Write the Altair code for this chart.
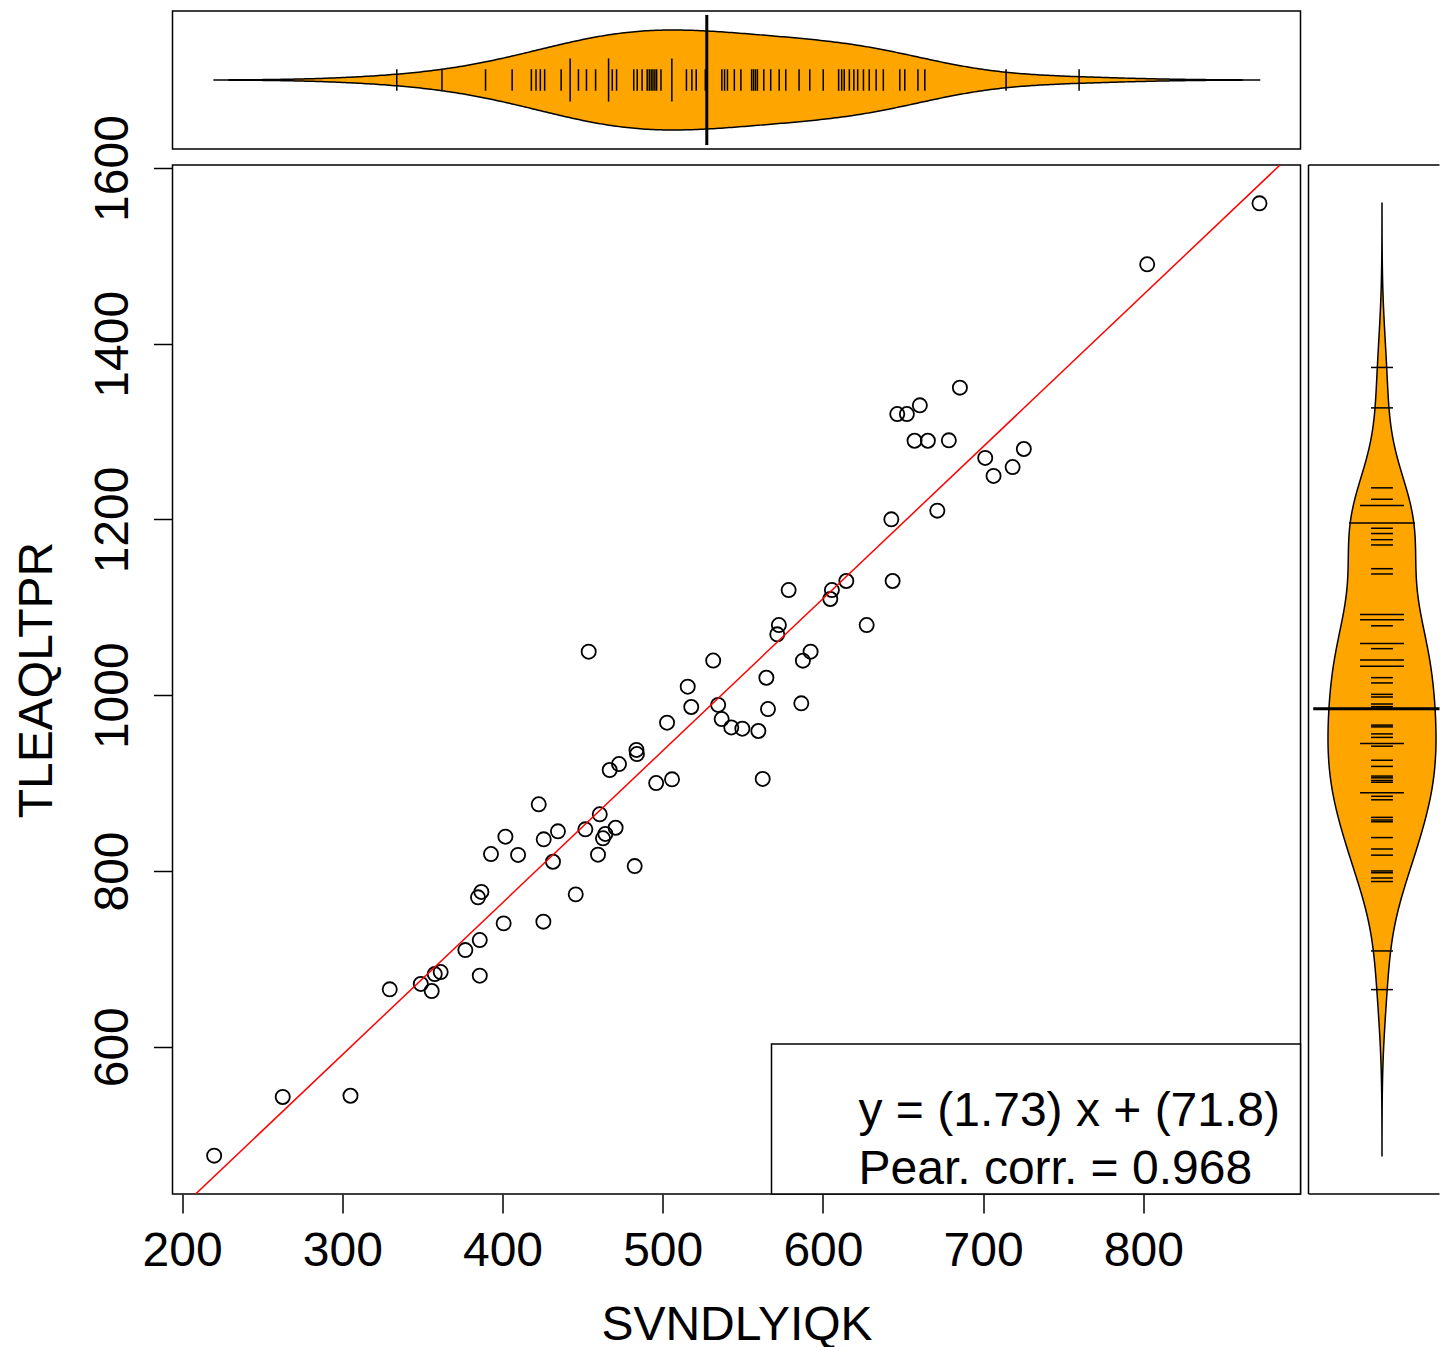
import altair as alt
import pandas as pd

# ---------------- data ----------------
X_VALUES = [220.0, 262.8, 305.1, 329.6, 349.0, 355.8, 357.7, 361.4, 376.8, 385.8,
            385.8, 384.7, 386.8, 392.8, 400.7, 401.8, 409.7, 422.6, 425.7, 425.5,
            431.5, 434.6, 445.7, 451.7, 453.8, 459.6, 460.7, 462.7, 464.2, 470.6,
            466.9, 472.7, 482.5, 483.6, 483.9, 495.9, 505.8, 502.7, 515.6, 517.8,
            531.5, 534.6, 536.8, 542.8, 549.7, 559.7, 562.4, 564.7, 565.7, 571.5,
            572.5, 578.6, 586.5, 587.5, 592.3, 604.6, 605.6, 614.6, 627.3, 642.7,
            643.5, 646.4, 652.4, 660.5, 657.2, 665.5, 671.4, 678.6, 685.5, 701.3,
            706.5, 718.4, 725.4, 802.4, 872.5]
Y_VALUES = [476.0, 542.8, 544.2, 665.3, 671.4, 663.4, 682.7, 685.0, 710.0, 721.4,
            680.8, 770.0, 776.1, 819.3, 740.4, 839.0, 818.2, 875.9, 836.0, 742.3,
            810.5, 845.1, 773.4, 847.4, 1049.5, 818.5, 864.5, 837.2, 842.1, 849.2,
            914.9, 921.7, 805.6, 937.7, 933.1, 900.1, 904.3, 968.7, 1009.7, 986.6,
            1039.5, 988.9, 972.9, 963.3, 961.9, 959.3, 904.7, 1019.9, 984.3, 1069.3,
            1079.9, 1119.7, 990.8, 1039.3, 1049.5, 1109.5, 1119.7, 1130.0, 1079.9, 1200.2,
            1130.0, 1320.0, 1320.0, 1329.9, 1289.6, 1289.6, 1210.0, 1290.1, 1350.0, 1270.0,
            1249.5, 1259.7, 1280.2, 1490.4, 1559.8]

# bean lines of the two marginal beans (repeated values = longer lines)
TOP_RUG = [334.0, 362.2, 389.4, 406.0, 418.0, 420.9, 423.6, 426.3, 436.6, 442.2,
           442.2, 447.4, 452.4, 458.1, 466.2, 466.2, 468.5, 471.2, 481.9, 484.1,
           487.1, 490.3, 491.6, 492.8, 493.9, 495.1, 496.2, 498.9, 505.7, 505.7,
           514.8, 518.2, 520.9, 526.6, 536.9, 538.6, 540.4, 544.7, 548.8, 555.5,
           556.7, 557.9, 559.1, 563.1, 567.4, 572.7, 576.8, 585.1, 591.8, 600.2,
           609.8, 611.7, 613.3, 616.5, 619.3, 621.7, 625.3, 628.9, 633.2, 637.7,
           648.0, 651.1, 659.3, 663.6, 714.3, 759.9]
RIGHT_RUG = [1373, 1327, 1236, 1223, 1216, 1216, 1196, 1196, 1196, 1190,
             1184, 1177, 1171, 1144, 1138, 1092, 1092, 1086, 1086, 1079,
             1059, 1059, 1053, 1040, 1040, 1033, 1033, 1020, 1014, 1001,
             998, 990, 987, 985, 966, 964, 956, 952, 945, 945,
             942, 926, 919, 908, 906, 903, 901, 889, 889, 885,
             881, 861, 858, 856, 838, 825, 818, 800, 798, 792,
             788, 709, 665]
X_MEAN = [527.5]
Y_MEAN = [984.5]

SLOPE = 1.73
INTERCEPT = 71.8
PEARSON = 0.968
X_LABEL = "SVNDLYIQK"
Y_LABEL = "TLEAQLTPR"
X_TICKS = [200, 300, 400, 500, 600, 700, 800]
Y_TICKS = [600, 800, 1000, 1200, 1400, 1600]
X_DOMAIN = [194.0, 898.1]
Y_DOMAIN = [432.4, 1603.4]

# ---------------- styling ----------------
FONT = "Liberation Sans"
FS = 48
W, H = 1128, 1029
TOP_H = 138
RIGHT_W = 131
BEAN_FILL = "#FFA500"
BW_X = 44
BW_Y = 56

xs = alt.Scale(domain=X_DOMAIN, nice=False, zero=False)
ys = alt.Scale(domain=Y_DOMAIN, nice=False, zero=False)

x_axis = alt.Axis(values=X_TICKS, title=X_LABEL, format="d", labelFlush=False,
                  labelOverlap=False, labelPadding=14, titleX=W / 2, titleY=145,
                  titleBaseline="alphabetic", titleAlign="center")
y_axis = alt.Axis(values=Y_TICKS, title=Y_LABEL, format="d", labelAngle=270,
                  labelAlign="center", labelBaseline="alphabetic", labelPadding=26,
                  labelOverlap=False, labelFlush=False, titleAngle=270, titleAlign="center",
                  titleBaseline="alphabetic", titleX=-121.5, titleY=H / 2)

# ---------------- main scatter ----------------
scatter_df = pd.DataFrame({"x": X_VALUES, "y": Y_VALUES})
x_enc = alt.X("x:Q", scale=xs, axis=x_axis)
y_enc = alt.Y("y:Q", scale=ys, axis=y_axis)

points = alt.Chart(scatter_df).mark_point(
    shape="circle", filled=False, color="black", size=200, strokeWidth=1.8, opacity=1
).encode(x=x_enc, y=y_enc)

line_df = pd.DataFrame({"x": X_DOMAIN})
fit_line = alt.Chart(line_df).transform_calculate(
    y=f"{SLOPE} * datum.x + {INTERCEPT}"
).mark_line(color="red", strokeWidth=1.5, clip=True).encode(x=x_enc, y=y_enc)

one = pd.DataFrame({"k": [0]})
legend_box = alt.Chart(one).mark_rect(fill="white", stroke="black", strokeWidth=1.5).encode(
    x=alt.value(599), x2=alt.value(W), y=alt.value(879), y2=alt.value(H)
)
legend_t1 = alt.Chart(one).mark_text(
    text=f"y = ({SLOPE}) x + ({INTERCEPT})", align="left", baseline="alphabetic",
    font=FONT, fontSize=FS, color="black"
).encode(x=alt.value(686), y=alt.value(961))
legend_t2 = alt.Chart(one).mark_text(
    text=f"Pear. corr. = {PEARSON}", align="left", baseline="alphabetic",
    font=FONT, fontSize=FS, color="black"
).encode(x=alt.value(686), y=alt.value(1019))

main = alt.layer(points, fit_line, legend_box, legend_t1, legend_t2).properties(width=W, height=H)

# ---------------- top bean (x margin) ----------------
TOP_HALF = 1.38
TOP_LINE = 0.216
TOP_MEANLEN = 1.3
tys = alt.Scale(domain=[-TOP_HALF, TOP_HALF], nice=False, zero=False)
top_df = pd.DataFrame({"v": TOP_RUG})

top_bean = alt.Chart(top_df).transform_density(
    "v", as_=["v", "density"], bandwidth=BW_X,
    extent=[min(X_VALUES), max(X_VALUES)], steps=400
).transform_joinaggregate(mx="max(density)").transform_calculate(
    hi="datum.density / datum.mx", lo="-datum.density / datum.mx"
).mark_area(fill=BEAN_FILL, stroke="black", strokeWidth=1.5).encode(
    x=alt.X("v:Q", scale=xs, axis=None),
    y=alt.Y("hi:Q", scale=tys, axis=None),
    y2="lo:Q",
)
top_lines = alt.Chart(top_df).transform_aggregate(
    n="count()", groupby=["v"]
).transform_calculate(
    hi=f"datum.n * {TOP_LINE}", lo=f"-datum.n * {TOP_LINE}"
).mark_rule(color="black", strokeWidth=1.5).encode(
    x=alt.X("v:Q", scale=xs, axis=None),
    y=alt.Y("hi:Q", scale=tys, axis=None),
    y2="lo:Q",
)
top_mean = alt.Chart(pd.DataFrame({"m": X_MEAN})).mark_rule(color="black", strokeWidth=3).encode(
    x=alt.X("m:Q", scale=xs, axis=None),
    y=alt.datum(TOP_MEANLEN, scale=tys, axis=None),
    y2=alt.datum(-TOP_MEANLEN),
)
top = alt.layer(top_bean, top_lines, top_mean).properties(width=W, height=TOP_H)

# ---------------- right bean (y margin) ----------------
R_UNIT = 54.0
R_CENTER = 73.5
R_LINE = 11.0 / R_UNIT
R_LO = -R_CENTER / R_UNIT
R_HI = (RIGHT_W - R_CENTER) / R_UNIT
R_MEANLEN = 1.274
rxs = alt.Scale(domain=[R_LO, R_HI], nice=False, zero=False)
right_df = pd.DataFrame({"v": RIGHT_RUG})

right_bean = alt.Chart(right_df).transform_density(
    "v", as_=["v", "density"], bandwidth=BW_Y,
    extent=[min(Y_VALUES), max(Y_VALUES)], steps=400
).transform_joinaggregate(mx="max(density)").transform_calculate(
    hi="datum.density / datum.mx", lo="-datum.density / datum.mx"
).mark_area(orient="horizontal", fill=BEAN_FILL, stroke="black", strokeWidth=1.5).encode(
    y=alt.Y("v:Q", scale=ys, axis=None),
    x=alt.X("hi:Q", scale=rxs, axis=None),
    x2="lo:Q",
)
right_lines = alt.Chart(right_df).transform_aggregate(
    n="count()", groupby=["v"]
).transform_calculate(
    hi=f"datum.n * {R_LINE}", lo=f"-datum.n * {R_LINE}"
).mark_rule(color="black", strokeWidth=1.5).encode(
    y=alt.Y("v:Q", scale=ys, axis=None),
    x=alt.X("hi:Q", scale=rxs, axis=None),
    x2="lo:Q",
)
right_mean = alt.Chart(pd.DataFrame({"m": Y_MEAN})).mark_rule(color="black", strokeWidth=3).encode(
    y=alt.Y("m:Q", scale=ys, axis=None),
    x=alt.datum(min(R_MEANLEN, R_HI), scale=rxs, axis=None),
    x2=alt.datum(-R_MEANLEN),
)
# frame of the right panel: left, top and bottom sides (the right side lies off the page)
frame_left = alt.Chart(one).mark_rule(color="black", strokeWidth=1.5).encode(
    x=alt.value(0), y=alt.value(0), y2=alt.value(H))
frame_top = alt.Chart(one).mark_rule(color="black", strokeWidth=1.5).encode(
    x=alt.value(0), x2=alt.value(RIGHT_W), y=alt.value(0))
frame_bottom = alt.Chart(one).mark_rule(color="black", strokeWidth=1.5).encode(
    x=alt.value(0), x2=alt.value(RIGHT_W), y=alt.value(H))
right = alt.layer(right_bean, right_lines, right_mean, frame_left, frame_top, frame_bottom).properties(
    width=RIGHT_W, height=H, view=alt.ViewBackground(strokeOpacity=0)
)

row = alt.hconcat(main, right, spacing=8, bounds="flush").resolve_scale(x="independent", y="independent")
chart = alt.vconcat(top, row, spacing=16, bounds="flush").resolve_scale(
    x="independent", y="independent"
).properties(
    padding={"left": 3.5, "top": 2, "right": 0, "bottom": 5}
).configure_view(
    stroke="black", strokeWidth=1.5
).configure_axis(
    labelFont=FONT, titleFont=FONT, labelFontSize=FS, titleFontSize=FS,
    labelColor="black", titleColor="black", tickColor="black", tickWidth=1.5,
    tickSize=19, domain=False, grid=False, titleFontWeight="normal"
)

chart.save("out.html", embed_options={"renderer": "svg", "actions": False})
